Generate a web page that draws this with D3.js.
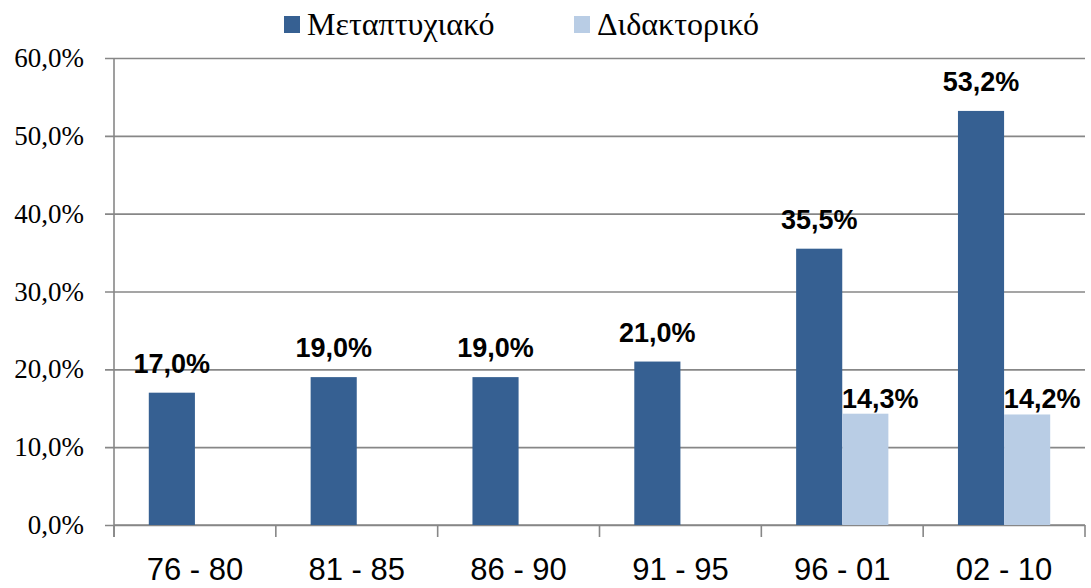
<!DOCTYPE html>
<html>
<head>
<meta charset="utf-8">
<script src="https://cdn.jsdelivr.net/npm/d3@7"></script>
<style>
  body { margin: 0; background: #fff; }
</style>
</head>
<body>
<div id="chart"></div>
<script>
const categories = ['76 - 80', '81 - 85', '86 - 90', '91 - 95', '96 - 01', '02 - 10'];
const seriesNames = ['Μεταπτυχιακό', 'Διδακτορικό'];
const masters = [17.0, 19.0, 19.0, 21.0, 35.5, 53.2];
const doctorate = [null, null, null, null, 14.3, 14.2];
const yTicks = [0, 10, 20, 30, 40, 50, 60];

const COLORS = ['#366092', '#B9CDE5'];
const W = 1091, H = 588;
const MARGIN = {TOP: 58, BOTTOM: 63, LEFT: 114, RIGHT: 6};
const WIDTH = W - MARGIN.LEFT - MARGIN.RIGHT;
const HEIGHT = H - MARGIN.TOP - MARGIN.BOTTOM;

const svg = d3.select('#chart').append('svg')
  .attr('width', W)
  .attr('height', H);

const g = svg.append('g')
  .attr('transform', `translate(${MARGIN.LEFT}, ${MARGIN.TOP})`);

const fmt = v => d3.format('.1f')(v).replace('.', ',') + '%';

const x = d3.scaleBand()
  .domain(categories)
  .range([0, WIDTH]);

const groupW = x.bandwidth() * 0.57;
const x1 = d3.scaleBand()
  .domain(seriesNames)
  .range([(x.bandwidth() - groupW) / 2, (x.bandwidth() + groupW) / 2]);

const y = d3.scaleLinear()
  .domain([0, 60])
  .range([HEIGHT, 0]);

// gridlines + y axis
const yAxis = g.append('g')
  .call(d3.axisLeft(y).tickValues(yTicks).tickSize(-WIDTH).tickFormat(d => fmt(d)));
yAxis.select('.domain').remove();
yAxis.selectAll('.tick line')
  .attr('x1', -9)
  .attr('stroke', '#878787')
  .attr('stroke-width', 1.6);
yAxis.selectAll('.tick text')
  .attr('x', -30)
  .attr('font-family', '"Liberation Serif", "Times New Roman", serif')
  .attr('font-size', '27px')
  .attr('fill', '#000');

g.append('line')
  .attr('x1', 0).attr('x2', 0)
  .attr('y1', 0).attr('y2', HEIGHT + 12)
  .attr('stroke', '#878787')
  .attr('stroke-width', 1.6);

// x axis with ticks on category boundaries
const xAxisGroup = g.append('g')
  .attr('transform', `translate(0, ${HEIGHT})`);
xAxisGroup.append('line')
  .attr('x1', 0).attr('x2', WIDTH)
  .attr('stroke', '#878787')
  .attr('stroke-width', 1.6);
xAxisGroup.selectAll('.bound')
  .data(categories.concat(['end']))
  .enter().append('line')
    .attr('class', 'bound')
    .attr('x1', (d, i) => i * x.step())
    .attr('x2', (d, i) => i * x.step())
    .attr('y1', 0).attr('y2', 12)
    .attr('stroke', '#878787')
    .attr('stroke-width', 1.6);
xAxisGroup.selectAll('.cat')
  .data(categories)
  .enter().append('text')
    .attr('class', 'cat')
    .attr('x', d => x(d) + x.bandwidth() / 2)
    .attr('y', 55)
    .attr('text-anchor', 'middle')
    .attr('font-family', '"Liberation Sans", Arial, sans-serif')
    .attr('font-size', '31px')
    .attr('fill', '#000')
    .text(d => d);

// bars
const series = [masters, doctorate];
const labelOffset = [{dx: 0, dy: -20}, {dx: 15, dy: -6}];

series.forEach((vals, s) => {
  const data = categories.map((c, i) => ({cat: c, value: vals[i]})).filter(d => d.value != null);

  g.selectAll(`.bar${s}`)
    .data(data)
    .enter().append('rect')
      .attr('class', `bar${s}`)
      .attr('x', d => x(d.cat) + x1(seriesNames[s]))
      .attr('y', d => y(d.value))
      .attr('width', x1.bandwidth())
      .attr('height', d => HEIGHT - y(d.value))
      .attr('fill', COLORS[s]);

  g.selectAll(`.lab${s}`)
    .data(data)
    .enter().append('text')
      .attr('class', `lab${s}`)
      .attr('x', d => x(d.cat) + x1(seriesNames[s]) + x1.bandwidth() / 2 + labelOffset[s].dx)
      .attr('y', d => y(d.value) + labelOffset[s].dy)
      .attr('text-anchor', 'middle')
      .attr('font-family', '"Liberation Sans", Arial, sans-serif')
      .attr('font-weight', 'bold')
      .attr('font-size', '27px')
      .attr('fill', '#000')
      .text(d => fmt(d.value));
});

// legend
const legendX = [284, 574];
const legend = svg.selectAll('.legend')
  .data(seriesNames)
  .enter().append('g')
    .attr('class', 'legend')
    .attr('transform', (d, i) => `translate(${legendX[i]}, 16)`);
legend.append('rect')
  .attr('width', 16)
  .attr('height', 17)
  .attr('fill', (d, i) => COLORS[i]);
legend.append('text')
  .attr('x', 23)
  .attr('y', 19)
  .attr('font-family', '"Liberation Serif", "Times New Roman", serif')
  .attr('font-size', '32px')
  .attr('fill', '#000')
  .text(d => d);
</script>
</body>
</html>
